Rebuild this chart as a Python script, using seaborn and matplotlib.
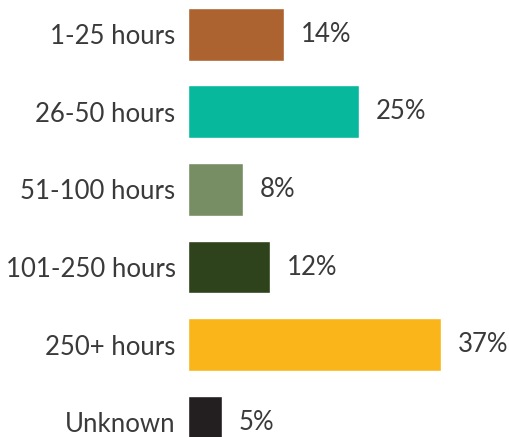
import matplotlib

matplotlib.use("Agg")

import matplotlib.pyplot as plt
import pandas as pd
import seaborn as sns

categories = ["1-25 hours", "26-50 hours", "51-100 hours", "101-250 hours", "250+ hours", "Unknown"]
shares = [14, 25, 8, 12, 37, 5]
bar_colors = ["#AD6330", "#08B89C", "#778E64", "#2E421B", "#F9B51A", "#231F20"]

frame = pd.DataFrame({"category": categories, "share": shares})

sns.set_theme(style="white")
plt.rcParams["font.family"] = ["Lato", "DejaVu Sans"]

fig = plt.figure(figsize=(5.1, 4.37), dpi=100)
ax = fig.add_axes([188 / 510, 0, 1 - 188 / 510, 1])

sns.barplot(
    data=frame,
    x="share",
    y="category",
    hue="category",
    palette=bar_colors,
    saturation=1,
    width=0.68,
    legend=False,
    ax=ax,
)

ax.set_xlim(0, 47)
ax.set_ylim(5.19, -0.44)
ax.set_xlabel("")
ax.set_ylabel("")
ax.set_xticks([])
ax.tick_params(axis="y", length=0, pad=9, labelsize=18.5, labelcolor="#3a3a3a")
sns.despine(ax=ax, left=True, bottom=True)

for container in ax.containers:
    ax.bar_label(
        container,
        labels=[f"{v:.0f}%" for v in container.datavalues],
        padding=12,
        fontsize=18.5,
        color="#3a3a3a",
    )

fig.savefig("out.png", dpi=100)
plt.close(fig)
